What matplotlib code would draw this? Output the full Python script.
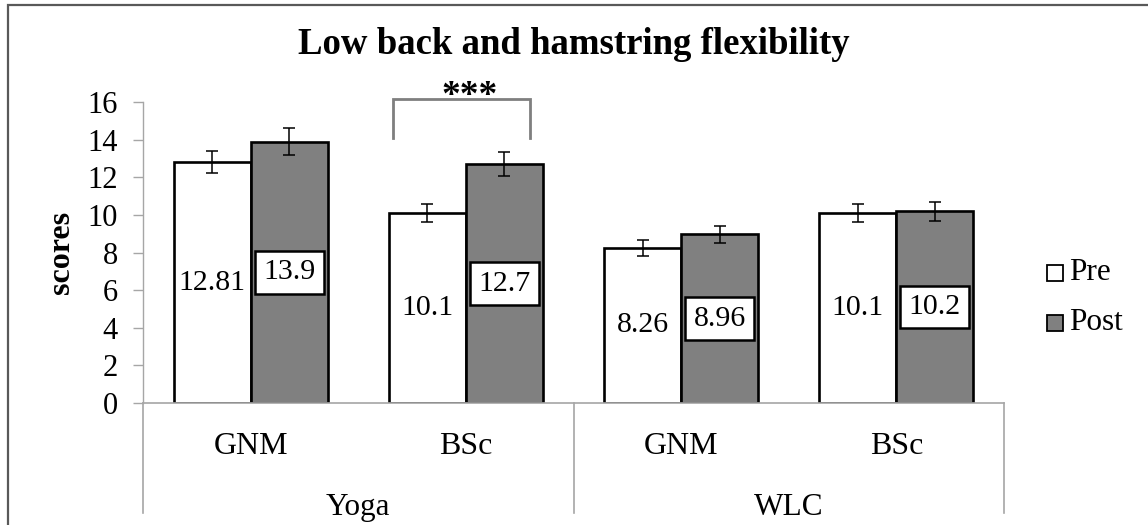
import numpy as np
import matplotlib
matplotlib.use("Agg")
import matplotlib.pyplot as plt
from matplotlib.patches import Rectangle
import matplotlib.transforms as mtransforms

plt.rcParams['font.family'] = ['Liberation Serif', 'DejaVu Serif']

# Data
subgroups = ["GNM", "BSc", "GNM", "BSc"]
groups = ["Yoga", "WLC"]
pre = [12.81, 10.1, 8.26, 10.1]
post = [13.9, 12.7, 8.96, 10.2]
pre_err = [0.6, 0.5, 0.42, 0.5]
post_err = [0.7, 0.66, 0.46, 0.5]
series_names = ["Pre", "Post"]
title = "Low back and hamstring flexibility"
ylabel = "scores"
yticks = [0, 2, 4, 6, 8, 10, 12, 14, 16]

W, H = 1148, 525
fig = plt.figure(figsize=(W / 100, H / 100), dpi=100)
ax = fig.add_axes([143 / W, 1 - 403 / H, (1004 - 143) / W, (403 - 102) / H])

x = np.arange(len(subgroups))
w = 0.358
pre_color, post_color = "white", "#808080"
axis_gray = "#a6a6a6"

ax.bar(x - w / 2, pre, w, color=pre_color, edgecolor="black", linewidth=1.9, zorder=2)
ax.bar(x + w / 2, post, w, color=post_color, edgecolor="black", linewidth=1.9, zorder=2)
ax.errorbar(x - w / 2, pre, yerr=pre_err, fmt="none", ecolor="black",
            elinewidth=1.1, capsize=4.3, capthick=1.1, zorder=3)
ax.errorbar(x + w / 2, post, yerr=post_err, fmt="none", ecolor="black",
            elinewidth=1.1, capsize=4.3, capthick=1.1, zorder=3)

# value labels
for xi, v in zip(x - w / 2, pre):
    ax.text(xi, v / 2, f"{v:g}", ha="center", va="center", fontsize=21.5, zorder=4)
for xi, v in zip(x + w / 2, post):
    ax.text(xi, v / 2, f"{v:g}", ha="center", va="center", fontsize=21.5, zorder=4,
            bbox=dict(boxstyle="square,pad=0.28", facecolor="white",
                      edgecolor="black", linewidth=1.8))

ax.set_xlim(-0.5, 3.5)
ax.set_ylim(0, 16)
ax.set_yticks(yticks)
ax.tick_params(axis="y", direction="out", length=7.2, width=1, color=axis_gray,
               labelsize=22, pad=11)
ax.set_xticks([])
for s in ["top", "right"]:
    ax.spines[s].set_visible(False)
ax.spines["left"].set_color(axis_gray)
ax.spines["bottom"].set_color(axis_gray)
ax.spines["left"].set_linewidth(1)
ax.spines["bottom"].set_linewidth(1.2)
ax.set_ylabel(ylabel, fontsize=23, fontweight="bold", labelpad=8)

# hierarchical category axis
trans = mtransforms.blended_transform_factory(ax.transData, ax.transAxes)
for sx in [-0.5, 1.5, 3.5]:
    ax.plot([sx, sx], [0, -0.365], color=axis_gray, lw=1.2, transform=trans,
            clip_on=False)
for xi, lab in zip(x, subgroups):
    ax.text(xi, -0.146, lab, ha="center", va="center", fontsize=23,
            transform=trans)
for gi, g in enumerate(groups):
    ax.text(2 * gi + 0.5, -0.346, g, ha="center", va="center", fontsize=22.5,
            transform=trans)

# significance bracket
ax.plot([0.661, 0.661, 1.297, 1.297], [14.06, 16.18, 16.18, 14.06],
        color="#7f7f7f", lw=2.0, clip_on=False, zorder=5,
        solid_joinstyle="miter")
ax.text(1.015, 15.8, "***", ha="center", va="baseline", fontsize=27,
        fontweight="bold", clip_on=False)

# title
fig.text(0.5, 1 - 45 / H, title, ha="center", va="center", fontsize=26.5,
         fontweight="bold")

# legend
for i, (name, col) in enumerate(zip(series_names, [pre_color, post_color])):
    cy = 273 + 50 * i
    fig.patches.append(Rectangle((1047 / W, 1 - (cy + 8) / H), 16 / W, 16 / H,
                                 transform=fig.transFigure, facecolor=col,
                                 edgecolor="black", linewidth=1.3))
    fig.text(1069 / W, 1 - cy / H, name, ha="left", va="center", fontsize=22.5)

# chart frame
fig.patches.append(Rectangle((8 / W, -0.1), 1.2, 1 - 5 / H + 0.1,
                             transform=fig.transFigure, facecolor="none",
                             edgecolor="#595959", linewidth=1.6))

fig.savefig("out.png", dpi=100)
